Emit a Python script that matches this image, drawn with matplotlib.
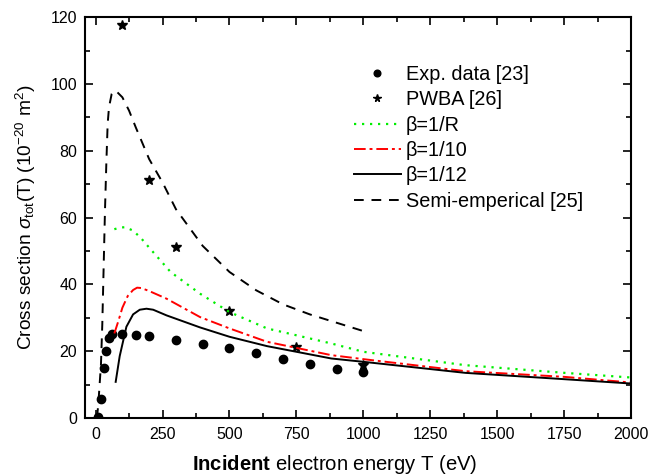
import matplotlib
matplotlib.use("Agg")
import matplotlib.pyplot as plt
from matplotlib.ticker import MultipleLocator

plt.rcParams['font.family'] = ['Liberation Sans', 'DejaVu Sans']
plt.rcParams['mathtext.fontset'] = 'custom'
plt.rcParams['mathtext.rm'] = 'Liberation Sans'
plt.rcParams['mathtext.it'] = 'Liberation Sans:italic'
plt.rcParams['mathtext.bf'] = 'Liberation Sans:bold'

# experimental data [23]
exp_T = [10, 20, 30, 40, 50, 60, 100, 150, 200, 300, 400, 500, 600, 700, 800, 900, 1000]
exp_sigma = [0.4, 5.6, 15.0, 20.0, 24.0, 25.2, 25.2, 24.8, 24.4, 23.4, 22.2, 20.8, 19.4, 17.6, 16.0, 14.7, 13.7]

# PWBA [26]
pwba_T = [100, 200, 300, 500, 750, 1000]
pwba_sigma = [117.5, 71.2, 51.3, 31.9, 21.2, 15.8]

# beta = 1/R
r_T = [70, 90, 110, 140, 170, 200, 280, 390, 500, 640, 880, 1000, 1380, 1750, 2000]
r_sigma = [56.5, 57.0, 57.1, 56.1, 53.8, 51.0, 43.7, 37.2, 31.7, 26.8, 22.3, 19.8, 15.8, 13.5, 12.1]

# beta = 1/10
b10_T = [70, 85, 100, 120, 140, 155, 170, 200, 265, 390, 500, 640, 880, 1000, 1380, 1750, 2000]
b10_sigma = [25.3, 29.0, 33.0, 36.5, 38.3, 39.0, 38.9, 38.0, 35.7, 30.2, 26.8, 22.8, 18.8, 17.6, 14.0, 12.3, 10.6]

# beta = 1/12
b12_T = [75, 90, 115, 140, 165, 190, 215, 265, 390, 500, 640, 880, 1000, 1380, 1750, 2000]
b12_sigma = [10.8, 18.5, 27.3, 31.0, 32.4, 32.7, 32.4, 30.7, 27.1, 24.3, 21.5, 17.8, 16.8, 13.5, 11.6, 10.3]

# semi-emperical [25]
semi_T = [5, 10, 15, 20, 25, 30, 35, 40, 45, 50, 60, 70, 80, 100, 125, 150, 200, 250, 300, 400, 500, 600, 700, 800, 900, 1000]
semi_sigma = [0.0, 4.0, 10.0, 16.0, 28.0, 45.0, 62.0, 76.0, 88.0, 93.0, 97.0, 98.0, 97.6, 96.0, 92.0, 87.0, 77.5, 70.5, 62.5, 51.5, 43.7, 38.2, 34.0, 31.0, 28.5, 26.0]

fig = plt.figure(figsize=(6.48, 4.76), dpi=100)
ax = fig.add_axes([0.131, 0.122, 0.843, 0.842])

ax.plot(exp_T, exp_sigma, 'o', color='black', markersize=6, label='Exp. data [23]')
ax.plot(pwba_T, pwba_sigma, '*', color='black', markersize=7, label='PWBA [26]')
ax.plot(r_T, r_sigma, linestyle=(0, (1, 2.6)), color='#00ee00', linewidth=1.6, label='β=1/R')
ax.plot(b10_T, b10_sigma, linestyle=(0, (6, 2, 1.5, 2)), color='red', linewidth=1.4, label='β=1/10')
ax.plot(b12_T, b12_sigma, '-', color='black', linewidth=1.4, label='β=1/12')
ax.plot(semi_T, semi_sigma, linestyle=(0, (5, 4)), color='black', linewidth=1.4, label='Semi-emperical [25]')

ax.set_xlim(-40, 2000)
ax.set_ylim(0, 120)
ax.xaxis.set_major_locator(MultipleLocator(250))
ax.xaxis.set_minor_locator(MultipleLocator(125))
ax.yaxis.set_major_locator(MultipleLocator(20))
ax.yaxis.set_minor_locator(MultipleLocator(10))
ax.tick_params(which='both', direction='in', top=True, right=True, width=1.2, labelsize=11.5)
ax.tick_params(which='major', length=6)
ax.tick_params(which='minor', length=3.5)
ax.tick_params(axis='x', pad=6.5)
ax.tick_params(axis='y', pad=5.5)
for s in ax.spines.values():
    s.set_linewidth(1.5)

# x label is set a bit left of the axes centre, as in the original
fig.text(335 / 648, 1 - 464 / 476, r'$\mathbf{Incident}$ electron energy T (eV)',
         fontsize=14.6, ha='center', va='center')
ax.set_ylabel(r'Cross section $\sigma_{\rm tot}$(T) (10$^{-20}$ m$^{2}$)', fontsize=13.8)
ax.yaxis.set_label_coords(-0.086, 0.5)

ax.legend(loc='upper left', bbox_to_anchor=(344 / 648, 1 - 55 / 476), bbox_transform=fig.transFigure,
          frameon=False, fontsize=14.3, borderpad=0, handlelength=2.36, handletextpad=0.25,
          labelspacing=0.32, numpoints=1, markerscale=0.8)

plt.savefig('out.png', dpi=100)
